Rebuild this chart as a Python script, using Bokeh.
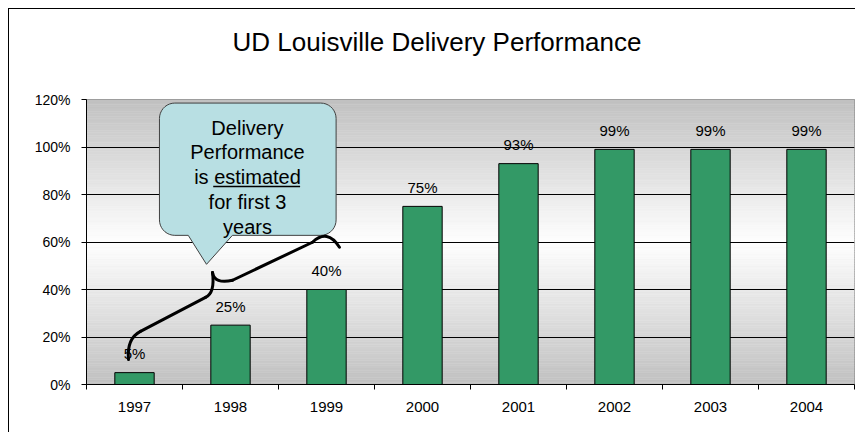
import numpy as np
from bokeh.plotting import figure
from bokeh.models import Range1d, FixedTicker, PrintfTickFormatter, Title
from bokeh.core.properties import value
from bokeh.embed import file_html
from bokeh.resources import INLINE

# ---- data ----
years = ["1997", "1998", "1999", "2000", "2001", "2002", "2003", "2004"]
performance = [5, 25, 40, 75, 93, 99, 99, 99]
value_labels = ["5%", "25%", "40%", "75%", "93%", "99%", "99%", "99%"]
y_ticks = [0, 20, 40, 60, 80, 100, 120]
title_text = "UD Louisville Delivery Performance"
callout_lines = ["Delivery", "Performance", "is estimated", "for first 3", "years"]

FONT = "Liberation Sans"
n = len(years)
centers = [i + 0.5 for i in range(n)]
bounds = list(range(n + 1))

FW, FH = 768, 285
p = figure(frame_width=FW, frame_height=FH,
           x_range=Range1d(0, n), y_range=Range1d(0, 120),
           output_backend="svg", toolbar_location=None,
           min_border_left=77, min_border_right=1,
           min_border_top=90, min_border_bottom=48)
p.styles = {"margin-left": "8px", "margin-top": "8px",
            "border-left": "1px solid black", "border-top": "1px solid black"}
p.background_fill_color = "white"
p.border_fill_color = "white"
p.outline_line_color = "#808080"
p.outline_line_width = 1

# spacer between title and plot area
p.add_layout(Title(text=" ", text_font_size="1px", standoff=40), "above")

# title
p.title.text = title_text
p.title.text_font = FONT
p.title.text_font_size = "26px"
p.title.text_font_style = "normal"
p.title.text_color = "black"
p.title.align = "left"
p.title.offset = 146
p.title.vertical_align = "bottom"
p.title.standoff = 0

# background gradient (grey at edges -> white at centre)
edges = np.linspace(0, 120, 121)
mid = (edges[:-1] + edges[1:]) / 2
t = np.clip(np.abs(mid - 60) / 60, 0, 1)
g = (255 - t * (255 - 192)).round().astype(int)
bg_colors = [f"#{v:02x}{v:02x}{v:02x}" for v in g]
bg = p.quad(left=0, right=n, bottom=edges[:-1], top=edges[1:],
            fill_color=bg_colors, line_color=bg_colors, line_width=0.5)
bg.level = "image"

# axes
p.xaxis.ticker = FixedTicker(ticks=centers, minor_ticks=bounds)
p.xaxis.major_label_overrides = {c: y for c, y in zip(centers, years)}
p.xaxis.major_tick_out = 0
p.xaxis.major_tick_in = 0
p.xaxis.minor_tick_out = 5
p.xaxis.minor_tick_in = 0
p.xaxis.minor_tick_line_color = "black"
p.xaxis.axis_line_color = "black"
p.xaxis.major_label_text_font = FONT
p.xaxis.major_label_text_font_size = "15px"
p.xaxis.major_label_text_color = "black"
p.xaxis.major_label_standoff = 12

p.yaxis.ticker = FixedTicker(ticks=y_ticks)
p.yaxis.formatter = PrintfTickFormatter(format="%d%%")
p.yaxis.major_tick_out = 5
p.yaxis.major_tick_in = 0
p.yaxis.minor_tick_line_color = None
p.yaxis.axis_line_color = "black"
p.yaxis.major_tick_line_color = "black"
p.yaxis.major_label_text_font = FONT
p.yaxis.major_label_text_font_size = "14px"
p.yaxis.major_label_text_color = "black"
p.yaxis.major_label_standoff = 11

p.xgrid.grid_line_color = None
p.ygrid.ticker = FixedTicker(ticks=y_ticks)
p.ygrid.grid_line_color = "black"
p.ygrid.grid_line_width = 1

# bars
p.vbar(x=centers, top=performance, width=0.41, bottom=0,
       fill_color="#339966", line_color="black", line_width=1)

# value labels
p.text(x=centers, y=performance, text=value_labels, y_offset=-19,
       text_align="center", text_baseline="middle",
       text_font=value(FONT), text_font_size="15px", text_color="black")

# callout bubble
x0, x1, yt, yb = 0.76, 2.60, 118.5, 62.8
rx, ry = 0.16, 6.5
tail_l, tail_r, tip_x, tip_y = 1.06, 1.52, 1.25, 50.6

def arc(cx, cy, a0, a1, k=10):
    a = np.radians(np.linspace(a0, a1, k))
    return list(cx + rx * np.cos(a)), list(cy + ry * np.sin(a))

xs, ys = [], []
for (cx, cy, a0, a1) in [(x0 + rx, yt - ry, 180, 90), (x1 - rx, yt - ry, 90, 0),
                         (x1 - rx, yb + ry, 0, -90)]:
    ax, ay = arc(cx, cy, a0, a1)
    xs += ax; ys += ay
xs += [tail_r, tip_x, tail_l]
ys += [yb, tip_y, yb]
ax, ay = arc(x0 + rx, yb + ry, -90, -180)
xs += ax; ys += ay
p.patch(xs, ys, fill_color="#b8dfe3", line_color="#404040", line_width=1)

callout_y = [108.0, 97.9, 87.3, 76.8, 66.2]
p.text(x=[1.677] * len(callout_lines), y=callout_y, text=callout_lines,
       text_align="center", text_baseline="middle",
       text_font=value(FONT), text_font_size="20px", text_color="black")
# underline of "estimated"
p.segment(x0=[1.32], y0=[83.4], x1=[2.225], y1=[83.4], line_color="black", line_width=1.5)

# curly brace
bw = 3
p.quadratic(x0=[0.4375], y0=[10.5], x1=[0.5625], y1=[22.4], cx=[0.417], cy=[19.4],
            line_color="black", line_width=bw, line_cap="round")
p.segment(x0=[0.5625], y0=[22.4], x1=[1.24], y1=[36.7],
          line_color="black", line_width=bw, line_cap="round")
p.quadratic(x0=[1.24], y0=[36.7], x1=[1.3125], y1=[47.2], cx=[1.34], cy=[38.5],
            line_color="black", line_width=bw, line_cap="round")
p.quadratic(x0=[1.3125], y0=[47.2], x1=[1.521], y1=[43.9], cx=[1.333], cy=[42.2],
            line_color="black", line_width=bw, line_cap="round")
p.segment(x0=[1.521], y0=[43.9], x1=[2.354], y1=[59.9],
          line_color="black", line_width=bw, line_cap="round")
p.quadratic(x0=[2.354], y0=[59.9], x1=[2.635], y1=[57.8], cx=[2.51], cy=[65.8],
            line_color="black", line_width=bw, line_cap="round")

open("out.html", "w").write(file_html(p, INLINE))
